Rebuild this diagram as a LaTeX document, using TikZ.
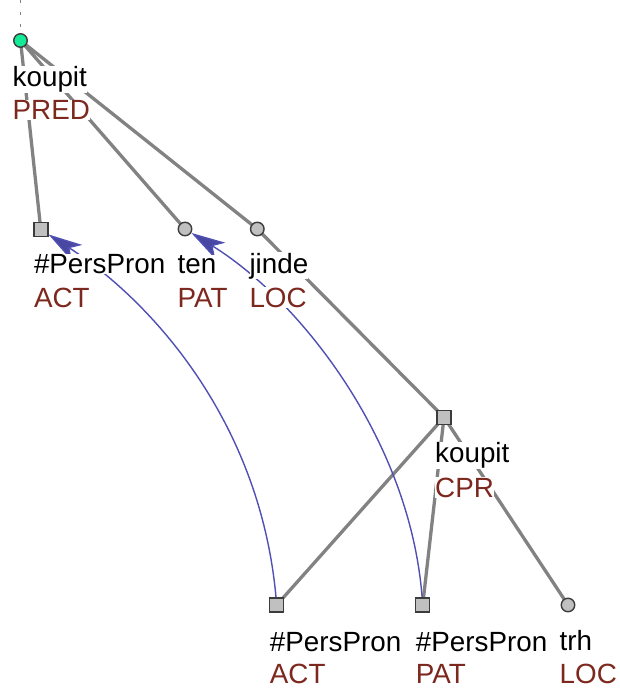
\documentclass[tikz,border=0pt]{standalone}
\usepackage{fontspec}
\setmainfont{Liberation Sans}
\usetikzlibrary{arrows.meta,calc}
\definecolor{edgegray}{RGB}{130,130,130}
\definecolor{nodefill}{RGB}{192,192,192}
\definecolor{nodeline}{RGB}{60,60,60}
\definecolor{corefblue}{RGB}{80,80,180}
\definecolor{functorred}{RGB}{125,40,30}
\definecolor{rootgreen}{RGB}{20,235,150}
\pgfdeclarelayer{bg}
\pgfsetlayers{bg,main}
\begin{document}
\begin{tikzpicture}[x=1pt,y=-1pt,
  sq/.style={draw=nodeline, fill=nodefill, line width=1.4pt, minimum size=14pt, inner sep=0pt, rectangle},
  circ/.style={draw=nodeline, fill=nodefill, line width=1.4pt, minimum size=13.5pt, inner sep=0pt, circle},
  rootnode/.style={circ, fill=rootgreen},
  treeedge/.style={draw=edgegray, line width=3.3pt},
  topline/.style={draw=edgegray, line width=1.5pt, dash pattern=on 3pt off 9pt},
  coref/.style={draw=corefblue, line width=1.4pt, -{Stealth[length=34pt,width=19pt,inset=9pt,fill=corefblue!90!black]}},
  lemma/.style={anchor=base west, fill=white, inner xsep=0pt, inner ysep=0.5pt, font=\fontsize{27.8}{30}\selectfont, text=black},
  func/.style={lemma, text=functorred, text depth=0pt}
]
\useasboundingbox (0,0) rectangle (620,688);

% nodes
\node[rootnode] (root) at (20.5,40.5) {};
\node[sq]   (act)  at (40.8,229.5) {};
\node[circ] (ten)  at (185,229) {};
\node[circ] (jinde) at (257.3,229) {};
\node[sq]   (cpr)  at (444,417.3) {};
\node[sq]   (act2) at (276.7,605) {};
\node[sq]   (pat2) at (422.7,605) {};
\node[circ] (trh)  at (568,605) {};
\coordinate (top) at (20.5,0);

% labels
\node[lemma] (l-root) at ($(root)+(-8,46)$) {koupit};
\node[func]  (f-root) at ($(root)+(-8,79)$) {PRED};
\node[lemma] (l-act) at ($(act)+(-7,44)$) {\#PersPron};
\node[func]  (f-act) at ($(act)+(-7,78)$) {ACT};
\node[lemma] (l-ten) at ($(ten)+(-7.5,44)$) {ten};
\node[func]  (f-ten) at ($(ten)+(-7.5,78)$) {PAT};
\node[lemma] (l-jinde) at ($(jinde)+(-8,44)$) {jinde};
\node[func]  (f-jinde) at ($(jinde)+(-8,78)$) {LOC};
\node[lemma] (l-cpr) at ($(cpr)+(-9,45.5)$) {koupit};
\node[func]  (f-cpr) at ($(cpr)+(-9,80)$) {CPR};
\node[lemma] (l-act2) at ($(act2)+(-7,46.5)$) {\#PersPron};
\node[func]  (f-act2) at ($(act2)+(-7,78.5)$) {ACT};
\node[lemma] (l-pat2) at ($(pat2)+(-7,46)$) {\#PersPron};
\node[func]  (f-pat2) at ($(pat2)+(-7,78.5)$) {PAT};
\node[lemma] (l-trh) at ($(trh)+(-8.5,45)$) {trh};
\node[func]  (f-trh) at ($(trh)+(-8.5,78.5)$) {LOC};

\begin{pgfonlayer}{bg}
  \draw[topline] (top) -- (root.center);
  \draw[treeedge] (root.center) -- (act.center);
  \draw[treeedge] (root.center) -- (ten.center);
  \draw[treeedge] (root.center) -- (jinde.center);
  \draw[treeedge] (jinde.center) -- (cpr.center);
  \draw[treeedge] (cpr.center) -- (act2.center);
  \draw[treeedge] (cpr.center) -- (pat2.center);
  \draw[treeedge] (cpr.center) -- (trh.center);
  \draw[coref] (act2) .. controls (260,420) and (150,300) .. (act);
  \draw[coref] (pat2) .. controls (410,440) and (300,300) .. (ten);
\end{pgfonlayer}
\end{tikzpicture}
\end{document}
